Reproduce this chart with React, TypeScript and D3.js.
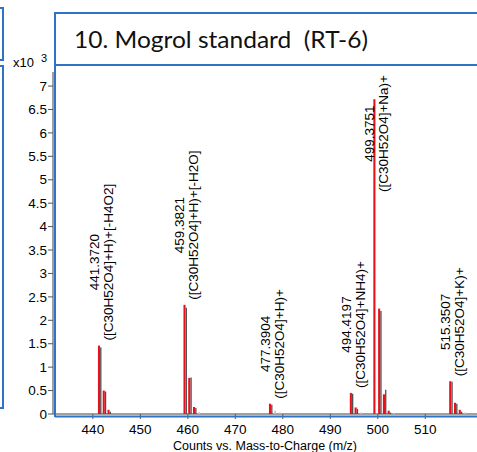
import React, { useMemo } from 'react';
import { scaleLinear, range } from 'd3';

// red = measured spectrum, grey = overlay trace, pink = minor isotopes (x10^3 counts)
const redMz = [441.372, 442.375, 443.378, 459.382, 460.386, 461.389, 477.39, 494.42, 495.423, 499.375, 500.378, 501.381, 502.384, 515.351, 516.354, 517.357];
const redAbund = [1.46, 0.5, 0.09, 2.33, 0.77, 0.15, 0.22, 0.45, 0.14, 6.72, 2.25, 0.42, 0.07, 0.7, 0.24, 0.09];
const greyAbund = [1.42, 0.48, 0.05, 2.27, 0.78, 0.13, 0.2, 0.43, 0.11, 0, 2.2, 0.52, 0.03, 0.69, 0.22, 0.05];
const pinkMz = [462.39, 478.39, 479.4, 496.43, 503.39, 518.36];
const pinkAbund = [0.04, 0.07, 0.03, 0.03, 0.02, 0.03];

const labelMz = [441.372, 459.3821, 477.3904, 494.4197, 499.3751, 515.3507];
const labelMass = ['441.3720', '459.3821', '477.3904', '494.4197', '499.3751', '515.3507'];
const labelFormula = [
  '([C30H52O4]+H)+[-H4O2]',
  '([C30H52O4]+H)+[-H2O]',
  '([C30H52O4]+H)+',
  '([C30H52O4]+NH4)+',
  '([C30H52O4]+Na)+',
  '([C30H52O4]+K)+',
];
const labelHeight = [1.46, 2.33, 0.22, 0.45, 6.72, 0.7];

const xTicks = [440, 450, 460, 470, 480, 490, 500, 510];
const yTicks = range(0, 7.01, 0.5);

const W = 477;
const H = 452;
const BLUE = '#2f74c4';
const FONT = "'Liberation Sans', Arial, sans-serif";
const LABEL_SIZE = 13.5;

function measure(txt: string, size: number) {
  const c = document.createElement('canvas').getContext('2d');
  if (!c) return txt.length * size * 0.53;
  c.font = `${size}px 'Liberation Sans'`;
  return c.measureText(txt).width;
}

export default function App() {
  const plot = { left: 53, right: 477, top: 72, bottom: 414 };

  const x = useMemo(() => scaleLinear().domain([431.6, 520.9]).range([plot.left, plot.right]), []);
  const y = useMemo(() => scaleLinear().domain([0, 7.3]).range([plot.bottom, plot.top]), []);

  return (
    <svg
      width={W}
      height={H}
      style={{ position: 'absolute', left: 0, top: 0, background: '#fff', display: 'block' }}
      fontFamily={FONT}
    >
      <rect x={0} y={0} width={W} height={H} fill="#fff" />

      {/* partial boxes on the left edge */}
      <rect x={-100} y={8} width={103} height={52} fill="none" stroke={BLUE} strokeWidth={2} />
      <rect x={-100} y={66} width={103} height={342} fill="none" stroke={BLUE} strokeWidth={2} />

      {/* y axis */}
      <line x1={plot.left} x2={plot.left} y1={plot.top} y2={plot.bottom} stroke="#808080" strokeWidth={1.5} />
      {yTicks.map((t) => (
        <g key={t}>
          <line x1={plot.left - 5} x2={plot.left} y1={y(t)} y2={y(t)} stroke="#555" strokeWidth={1} />
          <text x={plot.left - 6} y={y(t)} dy="0.35em" textAnchor="end" fontSize={13.5} fill="#000">
            {t % 1 === 0 ? String(t) : t.toFixed(1)}
          </text>
        </g>
      ))}
      <text x={13} y={67} fontSize={13} fill="#000">x10</text>
      <text x={41} y={62} fontSize={11} fill="#000">3</text>

      {/* x axis */}
      <line x1={plot.left} x2={plot.right} y1={plot.bottom} y2={plot.bottom} stroke="#808080" strokeWidth={1.5} />
      {xTicks.map((t) => (
        <g key={t}>
          <line x1={x(t)} x2={x(t)} y1={plot.bottom} y2={plot.bottom + 5} stroke="#555" strokeWidth={1} />
          <text x={x(t)} y={434} textAnchor="middle" fontSize={13.5} fill="#000">{t}</text>
        </g>
      ))}
      <text x={(plot.left + plot.right) / 2} y={449.5} textAnchor="middle" fontSize={12.5} fill="#000">
        Counts vs. Mass-to-Charge (m/z)
      </text>

      {/* peaks */}
      {pinkMz.map((m, i) => (
        <line key={'p' + i} x1={x(m)} x2={x(m)} y1={y(0)} y2={y(pinkAbund[i])} stroke="#f2a6d6" strokeWidth={1.6} />
      ))}
      {redMz.map((m, i) =>
        greyAbund[i] > 0 ? (
          <line key={'g' + i} x1={x(m) + 1.4} x2={x(m) + 1.4} y1={y(0)} y2={y(greyAbund[i])} stroke="#4d4d4d" strokeWidth={1.3} />
        ) : null
      )}
      {redMz.map((m, i) => (
        <line key={'r' + i} x1={x(m) - 0.4} x2={x(m) - 0.4} y1={y(0)} y2={y(redAbund[i])} stroke="#e8101a" strokeWidth={2.1} />
      ))}

      {/* peak labels */}
      {labelMz.map((m, i) => {
        const len = measure(labelFormula[i], LABEL_SIZE);
        const top = y(labelHeight[i]);
        const cy = Math.max(plot.top + 3 + len / 2, top - 5 - len / 2);
        const px = x(m);
        return (
          <g key={'l' + i} fontSize={LABEL_SIZE} fill="#000">
            <text transform={`translate(${px - 0.5},${cy}) rotate(-90)`} textAnchor="middle">{labelMass[i]}</text>
            <text transform={`translate(${px + 13.5},${cy}) rotate(-90)`} textAnchor="middle">{labelFormula[i]}</text>
          </g>
        );
      })}

      {/* outer frame */}
      <line x1={55} x2={55} y1={13} y2={417} stroke={BLUE} strokeWidth={2} />
      <line x1={55} x2={W + 10} y1={416.5} y2={416.5} stroke={BLUE} strokeWidth={2} />

      {/* title box */}
      <rect x={55} y={13} width={500} height={52} fill="#fff" stroke={BLUE} strokeWidth={2} />
      <text x={74} y={48} fontFamily="Lato, 'Open Sans', sans-serif" fontSize={24} fill="#111" style={{ whiteSpace: 'pre' }} textLength={294} lengthAdjust="spacingAndGlyphs">
        {'10. Mogrol standard  (RT-6)'}
      </text>
    </svg>
  );
}
